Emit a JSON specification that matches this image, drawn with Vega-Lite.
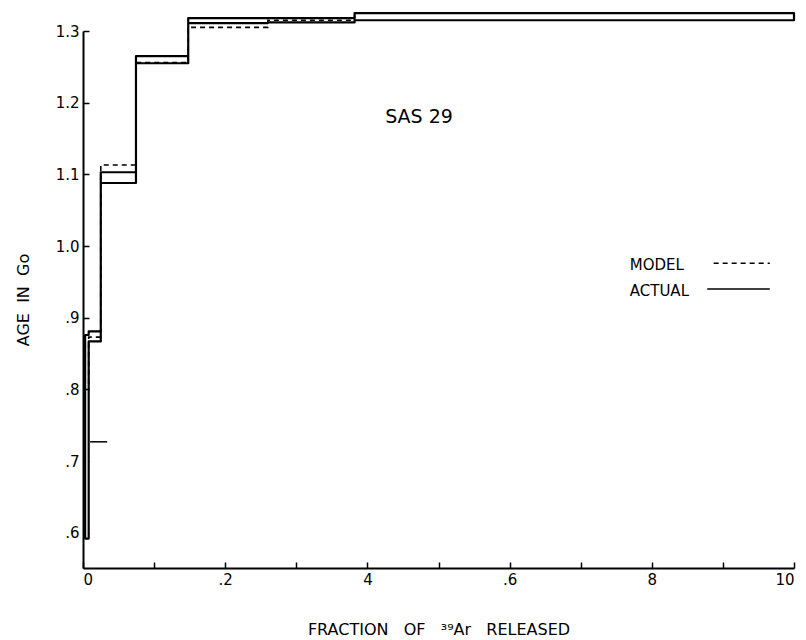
{
  "$schema": "https://vega.github.io/schema/vega-lite/v6.json",
  "width": 711,
  "height": 537,
  "autosize": {"type": "none"},
  "padding": {"left": 83, "top": 31, "right": 12, "bottom": 72},
  "background": "white",
  "config": {
    "view": {"stroke": null},
    "font": "DejaVu Sans",
    "axis": {
      "grid": false,
      "domainColor": "black",
      "domainWidth": 2,
      "tickColor": "black",
      "tickWidth": 1.5,
      "tickSize": -6,
      "labelColor": "black",
      "labelFont": "DejaVu Sans",
      "labelFontSize": 15,
      "titleColor": "black",
      "titleFont": "DejaVu Sans",
      "titleFontSize": 16,
      "titleFontWeight": "normal"
    }
  },
  "datasets": {
    "actual": [
      {"x": 0.003, "lo": 0.592, "hi": 0.876},
      {"x": 0.008, "lo": 0.867, "hi": 0.881},
      {"x": 0.025, "lo": 1.088, "hi": 1.103},
      {"x": 0.0745, "lo": 1.255, "hi": 1.265},
      {"x": 0.148, "lo": 1.311, "hi": 1.318},
      {"x": 0.26, "lo": 1.312, "hi": 1.318},
      {"x": 0.382, "lo": 1.315, "hi": 1.325},
      {"x": 1.0, "lo": 1.315, "hi": 1.325}
    ],
    "model": [
      {"x": 0.003, "age": 0.8},
      {"x": 0.008, "age": 0.873},
      {"x": 0.025, "age": 1.113},
      {"x": 0.0745, "age": 1.256},
      {"x": 0.148, "age": 1.305},
      {"x": 0.26, "age": 1.315},
      {"x": 0.382, "age": 1.325},
      {"x": 1.0, "age": 1.325}
    ],
    "marker": [{"x": 0.01, "x2": 0.034, "age": 0.727}],
    "legendText": [
      {"label": "MODEL", "x": 0.769, "age": 0.973},
      {"label": "ACTUAL", "x": 0.769, "age": 0.937}
    ],
    "legendLines": [
      {"series": "MODEL", "x": 0.887, "x2": 0.966, "age": 0.976},
      {"series": "ACTUAL", "x": 0.878, "x2": 0.966, "age": 0.94}
    ],
    "sample": [{"label": "SAS  29", "x": 0.425, "age": 1.18}]
  },
  "layer": [
    {
      "data": {"name": "actual"},
      "mark": {"type": "area", "interpolate": "step-after", "fill": "white", "stroke": "black", "strokeWidth": 2.2, "strokeJoin": "round"},
      "encoding": {
        "x": {
          "field": "x", "type": "quantitative",
          "scale": {"domain": [0, 1], "nice": false, "zero": false},
          "axis": {
            "values": [0, 0.1, 0.2, 0.3, 0.4, 0.5, 0.6, 0.7, 0.8, 0.9, 1.0],
            "labelPadding": 10,
            "labelExpr": "round(datum.value*10)==0?'0':round(datum.value*10)==2?'.2':round(datum.value*10)==4?'4':round(datum.value*10)==6?'.6':round(datum.value*10)==8?'8':round(datum.value*10)==10?'10':''",
            "title": "FRACTION\u00a0\u00a0\u00a0OF\u00a0\u00a0\u00a0³⁹Ar\u00a0\u00a0\u00a0RELEASED",
            "titlePadding": 34
          }
        },
        "y": {
          "field": "lo", "type": "quantitative",
          "scale": {"domain": [0.551, 1.3], "nice": false, "zero": false},
          "axis": {
            "values": [0.6, 0.7, 0.8, 0.9, 1.0, 1.1, 1.2, 1.3],
            "labelPadding": 10,
            "labelExpr": "round(datum.value*10)>=10?format(datum.value,'.1f'):'.'+round(datum.value*10)",
            "title": "AGE\u00a0\u00a0IN\u00a0\u00a0Go",
            "titlePadding": 24
          }
        },
        "y2": {"field": "hi"}
      }
    },
    {
      "data": {"name": "model"},
      "mark": {"type": "line", "interpolate": "step-after", "stroke": "black", "strokeWidth": 1.6, "strokeDash": [5, 4]},
      "encoding": {
        "x": {"field": "x", "type": "quantitative"},
        "y": {"field": "age", "type": "quantitative"}
      }
    },
    {
      "data": {"name": "marker"},
      "mark": {"type": "rule", "stroke": "black", "strokeWidth": 1.5},
      "encoding": {
        "x": {"field": "x", "type": "quantitative"},
        "x2": {"field": "x2"},
        "y": {"field": "age", "type": "quantitative"}
      }
    },
    {
      "data": {"name": "legendText"},
      "mark": {"type": "text", "align": "left", "baseline": "middle", "fontSize": 15, "font": "DejaVu Sans", "fill": "black"},
      "encoding": {
        "x": {"field": "x", "type": "quantitative"},
        "y": {"field": "age", "type": "quantitative"},
        "text": {"field": "label"}
      }
    },
    {
      "data": {"name": "legendLines"},
      "mark": {"type": "rule", "stroke": "black", "strokeWidth": 1.5},
      "encoding": {
        "x": {"field": "x", "type": "quantitative"},
        "x2": {"field": "x2"},
        "y": {"field": "age", "type": "quantitative"},
        "strokeDash": {
          "field": "series", "type": "nominal",
          "scale": {"domain": ["MODEL", "ACTUAL"], "range": [[5, 4], [1, 0]]},
          "legend": null
        }
      }
    },
    {
      "data": {"name": "sample"},
      "mark": {"type": "text", "align": "left", "baseline": "middle", "fontSize": 19, "font": "DejaVu Sans", "fill": "black"},
      "encoding": {
        "x": {"field": "x", "type": "quantitative"},
        "y": {"field": "age", "type": "quantitative"},
        "text": {"field": "label"}
      }
    }
  ]
}
